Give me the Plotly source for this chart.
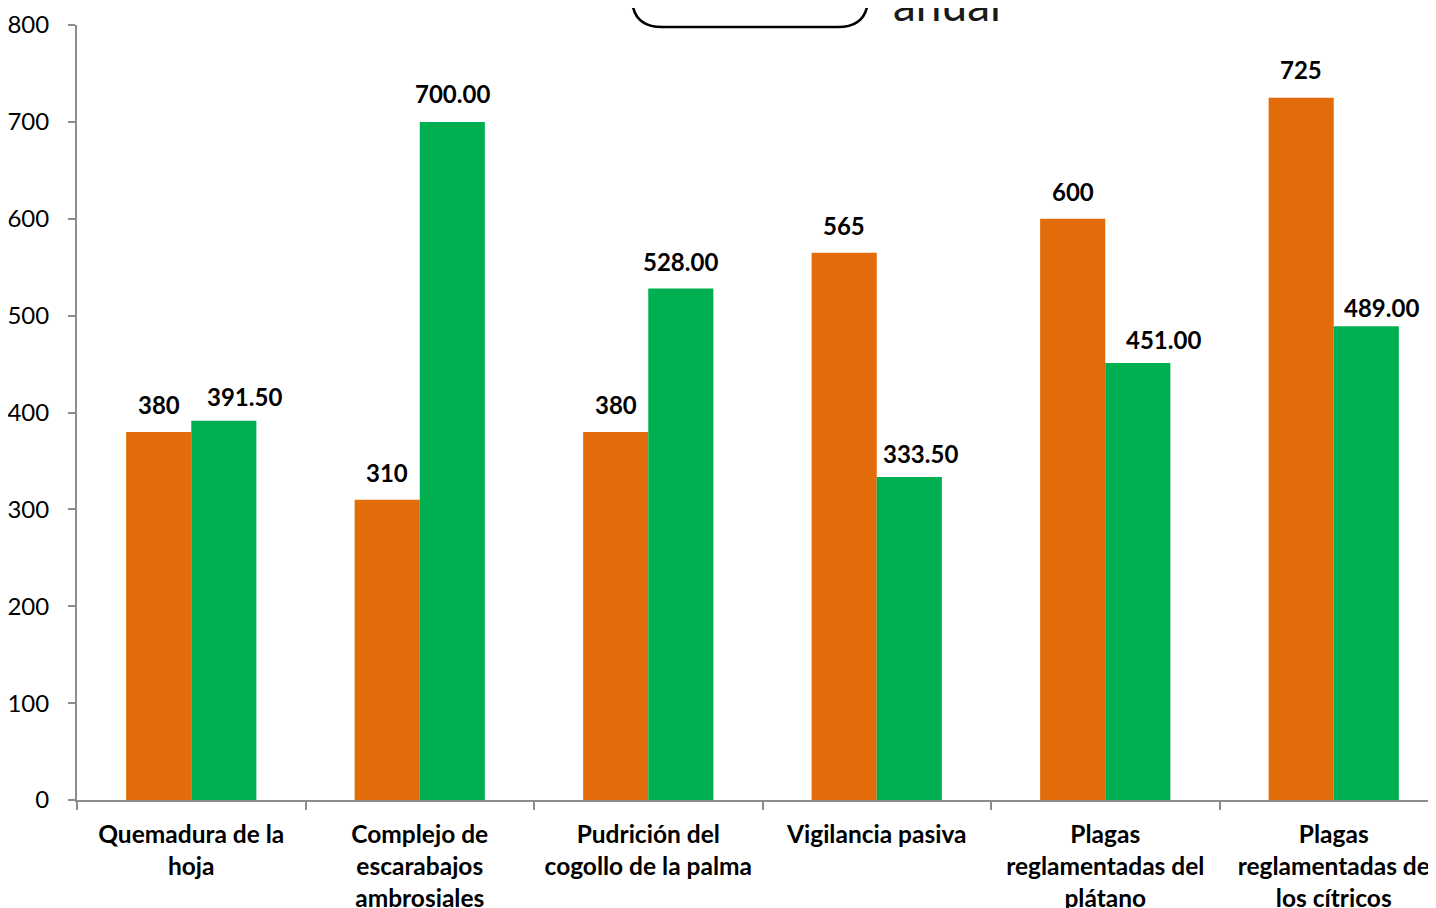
import plotly.graph_objects as go

categories = ["Quemadura de la<br>hoja", "Complejo de<br>escarabajos<br>ambrosiales",
              "Pudrición del<br>cogollo de la palma", "Vigilancia pasiva",
              "Plagas<br>reglamentadas del<br>plátano", "Plagas<br>reglamentadas de<br>los cítricos"]
orange_vals = [380, 310, 380, 565, 600, 725]
green_vals = [391.5, 700, 528, 333.5, 451, 489]
y_ticks = [0, 100, 200, 300, 400, 500, 600, 700, 800]

# label placement nudges (pixels)
orange_dx = [0, 0, 0, 0, 0, 0]
orange_dy = [27, 27, 27, 27, 27, 28]
green_dx = [21, 0, 0, 11, 26, 15]
green_dy = [24, 28, 27, 23, 24, 19]

FONT = "Lato"
OFF = 8  # page body margin offset
W, H = 1436, 908
L, T = 77 - OFF, 25 - OFF
B = H - (800 - OFF)
R = 0
pw, ph = W - L - R, H - T - B

def px_x(p):
    return (p - OFF - L) / pw

def px_y(p):
    return (800 - p) / ph

n = len(categories)
cat_px = (1448 - 77) / n
bar_px = 65

fig = go.Figure()
fig.add_trace(go.Bar(x=categories, y=orange_vals, marker=dict(color="#E36C0A", line=dict(width=0)),
                     showlegend=False, name="orange"))
fig.add_trace(go.Bar(x=categories, y=green_vals, marker=dict(color="#00B050", line=dict(width=0)),
                     showlegend=False, name="green"))

lab_font = dict(family=FONT, size=24, color="black", weight="bold")
for c, v, dx, dy in zip(categories, orange_vals, orange_dx, orange_dy):
    fig.add_annotation(x=c, y=v, xref="x", yref="y", text=f"{v:.0f}", showarrow=False,
                       xanchor="center", yanchor="middle", xshift=-bar_px / 2 + dx, yshift=dy,
                       font=lab_font)
for c, v, dx, dy in zip(categories, green_vals, green_dx, green_dy):
    fig.add_annotation(x=c, y=v, xref="x", yref="y", text=f"{v:.2f}", showarrow=False,
                       xanchor="center", yanchor="middle", xshift=bar_px / 2 + dx, yshift=dy,
                       font=lab_font)

fig.update_layout(
    width=W, height=H, margin=dict(l=L, r=R, t=T, b=B, pad=0),
    paper_bgcolor="white", plot_bgcolor="white",
    barmode="group", bargap=0.43, bargroupgap=0,
    font=dict(family=FONT, color="black"),
    xaxis=dict(range=[-0.5, -0.5 + pw / cat_px], showline=True, linecolor="#8c8c8c", linewidth=2,
               ticks="outside", tickson="boundaries", ticklen=8, tickcolor="#8c8c8c", tickwidth=2,
               ticklabelstandoff=12,
               tickfont=dict(family=FONT, size=24.5, color="black", weight="bold"), showgrid=False),
    yaxis=dict(range=[0, 800], tickvals=y_ticks, showline=True, linecolor="#8c8c8c", linewidth=2,
               ticks="outside", ticklen=7, tickcolor="#8c8c8c", tickwidth=2, showgrid=False,
               ticklabelstandoff=14,
               tickfont=dict(family=FONT, size=24, color="black"), zeroline=False),
)

# partially visible title box and text at the top
x0, x1, yb, r = 632, 868, 27, 30
path = (f"M {px_x(x0)},{px_y(-30)} L {px_x(x0)},{px_y(yb - r)} "
        f"Q {px_x(x0)},{px_y(yb)} {px_x(x0 + r)},{px_y(yb)} "
        f"L {px_x(x1 - r)},{px_y(yb)} Q {px_x(x1)},{px_y(yb)} {px_x(x1)},{px_y(yb - r)} "
        f"L {px_x(x1)},{px_y(-30)}")
fig.add_shape(type="path", path=path, xref="paper", yref="paper", line=dict(color="black", width=2.5))
fig.add_annotation(text="anual", xref="paper", yref="paper", x=px_x(891), y=px_y(33),
                   xanchor="left", yanchor="bottom", showarrow=False,
                   font=dict(family=FONT, size=46, color="#1a1a1a"))

fig.write_html("out.html")
